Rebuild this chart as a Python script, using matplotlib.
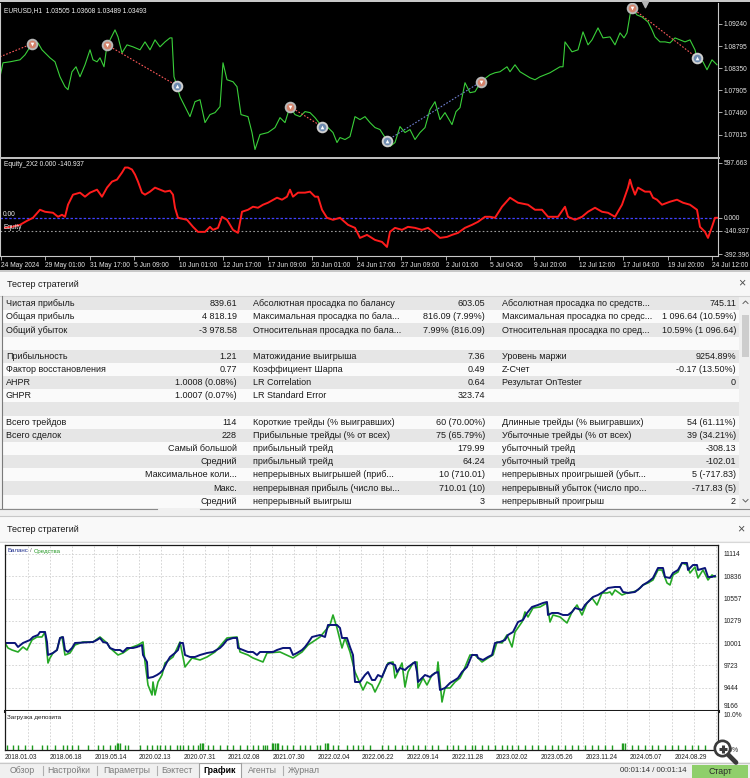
import numpy as np
import matplotlib
matplotlib.use("Agg")
import matplotlib.pyplot as plt
from matplotlib.patches import Rectangle, Circle

plt.rcParams['font.family'] = ['Liberation Sans', 'DejaVu Sans']

W, H = 750, 778

# ---------------- top chart: EURUSD H1 (bar, price) ----------------
price_pts = [
    (0, 1.08177), (3, 1.08458), (10, 1.08478), (20, 1.08518), (25, 1.08618), (32, 1.08839),
    (38, 1.08859), (42, 1.08719), (50, 1.08558), (55, 1.08478), (60, 1.08177), (65, 1.07977),
    (68, 1.07917), (72, 1.08278), (76, 1.08378), (80, 1.08177), (85, 1.08418), (90, 1.08719),
    (93, 1.08518), (97, 1.08478), (100, 1.08558), (104, 1.08378), (107, 1.08819), (110, 1.08919),
    (115, 1.09120), (118, 1.08979), (122, 1.08659), (127, 1.08819), (133, 1.08779), (140, 1.08719),
    (145, 1.08879), (150, 1.08719), (155, 1.08919), (160, 1.08779), (165, 1.08879), (170, 1.08959),
    (172, 1.08959), (174, 1.08177), (177, 1.07997), (180, 1.07776), (185, 1.07576), (190, 1.07375),
    (195, 1.07676), (200, 1.07716), (205, 1.07255), (210, 1.07416), (215, 1.07456), (220, 1.07576),
    (223, 1.08458), (227, 1.08117), (233, 1.08077), (237, 1.07977), (241, 1.07416), (248, 1.07375),
    (252, 1.07055), (255, 1.06714), (260, 1.07015), (268, 1.07055), (275, 1.07155), (280, 1.07355),
    (285, 1.07255), (290, 1.07576), (295, 1.07416), (300, 1.07375), (305, 1.07476), (310, 1.07456),
    (315, 1.07355), (322, 1.07175), (328, 1.07155), (333, 1.07055), (337, 1.06854), (340, 1.06954),
    (345, 1.06914), (350, 1.06974), (355, 1.07375), (360, 1.07315), (365, 1.07375), (370, 1.07255),
    (375, 1.07155), (380, 1.07115), (387, 1.06894), (390, 1.06774), (395, 1.06854), (400, 1.07175),
    (405, 1.07055), (410, 1.07115), (415, 1.06914), (420, 1.07055), (425, 1.07155), (430, 1.07516),
    (435, 1.07676), (440, 1.07315), (445, 1.07456), (452, 1.07215), (456, 1.07476), (460, 1.07556),
    (465, 1.08057), (470, 1.07857), (475, 1.07877), (481, 1.08077), (486, 1.08157), (490, 1.08218),
    (495, 1.08258), (500, 1.08278), (507, 1.08378), (510, 1.08278), (515, 1.08418), (520, 1.08278),
    (525, 1.08218), (530, 1.08157), (535, 1.08117), (540, 1.08177), (550, 1.08258), (555, 1.08318),
    (560, 1.08378), (563, 1.08378), (565, 1.08879), (572, 1.08679), (578, 1.08719), (583, 1.09080),
    (588, 1.08819), (592, 1.08919), (598, 1.09160), (603, 1.08959), (610, 1.08979), (615, 1.08819),
    (620, 1.09060), (624, 1.08959), (627, 1.09060), (630, 1.09420), (632, 1.09561), (637, 1.09420),
    (642, 1.09380), (648, 1.09280), (652, 1.09120), (655, 1.08979), (660, 1.08879), (665, 1.08879),
    (670, 1.08859), (675, 1.08959), (680, 1.08919), (685, 1.08879), (690, 1.08919), (695, 1.08719),
    (697, 1.08558), (703, 1.08478), (707, 1.08318), (712, 1.08518), (717, 1.08418),
]
# deals on the chart: (bar, price, 's'=sell / 'b'=buy)
deal_pts = [(32, 1.08839, 's'), (107, 1.08819, 's'), (177, 1.07997, 'b'), (290, 1.07576, 's'),
            (322, 1.07175, 'b'), (387, 1.06894, 'b'), (481, 1.08077, 's'), (632, 1.09561, 's'),
            (697, 1.08558, 'b')]
# trade lines: (bar0, price0, bar1, price1, kind)
trade_lines = [(0, 1.08579, 32, 1.08839, 's'), (107, 1.08819, 177, 1.07997, 's'),
               (290, 1.07576, 322, 1.07175, 's'), (387, 1.06894, 481, 1.08077, 'b'),
               (632, 1.09561, 697, 1.08558, 's')]
price_ticks = [1.07015, 1.07460, 1.07905, 1.08350, 1.08795, 1.09240]
chart_dates = ["24 May 2024", "29 May 01:00", "31 May 17:00", "5 Jun 09:00", "10 Jun 01:00",
               "12 Jun 17:00", "17 Jun 09:00", "20 Jun 01:00", "24 Jun 17:00", "27 Jun 09:00",
               "2 Jul 01:00", "5 Jul 04:00", "9 Jul 20:00", "12 Jul 12:00", "17 Jul 04:00",
               "19 Jul 20:00", "24 Jul 12:00"]

# Equity_2X2 indicator (bar, value)
equity_pts = [
    (5, -108.7), (12, -97.8), (20, -76.1), (27, -32.6), (33, 0.0), (40, 86.9), (45, 65.2),
    (53, 54.3), (58, 10.9), (62, 32.6), (65, 10.9), (68, 141.3), (73, 249.9), (80, 271.7),
    (85, 228.2), (90, 271.7), (97, 304.2), (102, 228.2), (107, 326.0), (112, 391.2), (117, 412.9),
    (122, 489.0), (125, 543.3), (128, 543.3), (132, 521.6), (135, 467.2), (138, 391.2), (142, 271.7),
    (145, 249.9), (150, 282.5), (155, 326.0), (160, 304.2), (165, 282.5), (170, 293.4), (173, 249.9),
    (175, 108.7), (178, 0.0), (187, -21.7), (193, -97.8), (198, -152.1), (205, -152.1), (210, -97.8),
    (213, -130.4), (218, -108.7), (222, 10.9), (227, -21.7), (233, -130.4), (238, -163.0), (242, 65.2),
    (248, 86.9), (253, 119.5), (258, 108.7), (263, 141.3), (268, 163.0), (277, 217.3), (282, 195.6),
    (287, 228.2), (290, 304.2), (293, 228.2), (298, 271.7), (305, 271.7), (310, 282.5), (315, 228.2),
    (318, 228.2), (322, 86.9), (327, 0.0), (333, -21.7), (340, 0.0), (348, -76.1), (355, -108.7),
    (360, -217.3), (367, -184.7), (375, -239.1), (382, -260.8), (387, -315.1), (390, -152.1),
    (395, -108.7), (402, -130.4), (408, -97.8), (415, -108.7), (422, -130.4), (428, -108.7),
    (433, -152.1), (440, -217.3), (447, -206.4), (452, -184.7), (458, -163.0), (465, -108.7),
    (472, -76.1), (478, -43.5), (485, 10.9), (490, 10.9), (495, 0.0), (502, 119.5), (510, 217.3),
    (518, 163.0), (528, 141.3), (535, 86.9), (542, 86.9), (548, 10.9), (558, 10.9), (565, 119.5),
    (568, 10.9), (575, -21.7), (582, 10.9), (588, 65.2), (595, 108.7), (602, 65.2), (608, 54.3),
    (615, 10.9), (622, 141.3), (628, 326.0), (630, 412.9), (632, 336.8), (635, 249.9), (638, 326.0),
    (645, 282.5), (650, 282.5), (653, 217.3), (657, 195.6), (662, 141.3), (670, 173.9), (677, 195.6),
    (683, 163.0), (690, 141.3), (697, 86.9), (700, -97.8), (705, -152.1), (708, -217.3),
    (712, -97.8), (715, 0.0), (718, 0.0),
]
equity_ticks = [-392.396, -140.937, 0.0, 597.663]

# ---------------- tester graph: balance / equity (point, value) ----------------
balance_pts = [
    (5, 10002.7), (15, 10002.7), (18, 9952.7), (23, 10002.7), (30, 10040.1), (33, 10077.6),
    (38, 10102.6), (40, 10140.0), (45, 10140.0), (47, 10015.1), (48, 9852.8), (53, 9877.8),
    (57, 9915.2), (60, 10065.1), (63, 10077.6), (65, 9915.2), (68, 9890.3), (72, 9940.2),
    (75, 10002.7), (93, 10015.1), (97, 10040.1), (100, 10065.1), (103, 10015.1), (107, 10002.7),
    (110, 9940.2), (115, 9915.2), (120, 9915.2), (123, 9890.3), (127, 9940.2), (133, 9940.2),
    (137, 9952.7), (142, 9977.7), (143, 9852.8), (147, 9765.4), (148, 9565.6), (153, 9578.1),
    (157, 9603.1), (160, 9628.0), (163, 9665.5), (167, 9765.4), (170, 9827.8), (175, 9877.8),
    (178, 9915.2), (180, 10002.7), (183, 10002.7), (185, 9852.8), (190, 9827.8), (195, 9827.8),
    (200, 9852.8), (207, 9877.8), (213, 9890.3), (220, 9940.2), (223, 9977.7), (227, 10040.1),
    (233, 10065.1), (237, 10065.1), (238, 9940.2), (243, 9915.2), (248, 9890.3), (253, 9890.3),
    (257, 9852.8), (260, 9890.3), (273, 9890.3), (277, 9915.2), (283, 9940.2), (290, 9940.2),
    (293, 9852.8), (297, 9877.8), (302, 9915.2), (305, 9952.7), (308, 10002.7), (312, 10077.6),
    (320, 10102.6), (325, 10077.6), (328, 10227.4), (337, 10227.4), (340, 10190.0), (342, 10065.1),
    (347, 10065.1), (350, 9952.7), (353, 9852.8), (355, 9515.7), (360, 9515.7), (365, 9603.1),
    (368, 9640.5), (372, 9540.6), (375, 9540.6), (378, 9603.1), (382, 9578.1), (387, 9727.9),
    (390, 9752.9), (395, 9727.9), (397, 9640.5), (400, 9690.5), (405, 9665.5), (408, 9702.9),
    (415, 9765.4), (417, 9640.5), (418, 9515.7), (422, 9565.6), (425, 9603.1), (430, 9578.1),
    (435, 9628.0), (438, 9640.5), (440, 9415.8), (445, 9440.7), (450, 9503.2), (455, 9540.6),
    (458, 9565.6), (462, 9640.5), (467, 9702.9), (472, 9852.8), (477, 9852.8), (478, 9815.4),
    (483, 9790.4), (488, 9827.8), (492, 9852.8), (495, 10002.7), (500, 10015.1), (505, 10040.1),
    (508, 10102.6), (513, 10140.0), (518, 10264.9), (523, 10289.9), (527, 10377.3), (532, 10452.2),
    (538, 10477.2), (543, 10502.1), (547, 10514.6), (548, 10352.3), (552, 10377.3), (558, 10377.3),
    (563, 10352.3), (568, 10352.3), (572, 10389.8), (575, 10439.7), (582, 10414.7), (585, 10477.2),
    (588, 10514.6), (593, 10577.1), (598, 10602.0), (603, 10639.5), (608, 10689.4), (615, 10701.9),
    (620, 10701.9), (623, 10639.5), (628, 10627.0), (635, 10639.5), (640, 10689.4), (643, 10726.9),
    (648, 10764.4), (653, 10814.3), (658, 10939.2), (663, 10939.2), (665, 10826.8), (670, 10814.3),
    (673, 10876.7), (678, 10914.2), (682, 11001.6), (687, 11001.6), (688, 10914.2), (693, 10976.6),
    (697, 10976.6), (698, 10914.2), (705, 10939.2), (708, 10826.8), (712, 10826.8), (715, 10839.3),
]
funds_pts = [
    (5, 10002.7), (8, 9940.2), (12, 9915.2), (18, 9890.3), (23, 9952.7), (27, 9915.2),
    (32, 10040.1), (37, 10077.6), (42, 10077.6), (45, 10140.0), (48, 9752.9), (50, 9815.4),
    (53, 9877.8), (57, 9915.2), (60, 10065.1), (62, 10077.6), (65, 9852.8), (70, 9877.8),
    (75, 9977.7), (83, 10015.1), (93, 10015.1), (100, 10077.6), (107, 10002.7), (110, 9940.2),
    (118, 9852.8), (123, 9877.8), (130, 9940.2), (138, 9977.7), (143, 10015.1), (145, 9765.4),
    (148, 9478.2), (152, 9353.3), (153, 9515.7), (155, 9353.3), (158, 9515.7), (162, 9603.1),
    (165, 9752.9), (173, 9827.8), (180, 10015.1), (185, 9702.9), (192, 9815.4), (200, 9790.4),
    (207, 9827.8), (215, 9890.3), (227, 10065.1), (237, 10077.6), (240, 9890.3), (248, 9852.8),
    (253, 9815.4), (263, 9765.4), (267, 9877.8), (280, 9890.3), (293, 9815.4), (302, 9890.3),
    (308, 9977.7), (320, 10077.6), (330, 10227.4), (333, 10352.3), (337, 10190.0), (342, 9940.2),
    (345, 10065.1), (350, 9890.3), (355, 9640.5), (363, 9415.8), (367, 9515.7), (372, 9478.2),
    (375, 9390.8), (380, 9515.7), (388, 9752.9), (393, 9765.4), (395, 9565.6), (398, 9640.5),
    (402, 9752.9), (405, 9453.2), (408, 9640.5), (413, 9752.9), (417, 9765.4), (418, 9440.7),
    (423, 9565.6), (427, 9478.2), (432, 9603.1), (437, 9640.5), (438, 9765.4), (442, 9265.9),
    (445, 9440.7), (450, 9440.7), (455, 9515.7), (460, 9565.6), (463, 9640.5), (470, 9852.8),
    (475, 9852.8), (482, 9765.4), (488, 9815.4), (493, 9852.8), (497, 10015.1), (502, 10002.7),
    (507, 10102.6), (512, 9952.7), (515, 10140.0), (522, 10264.9), (525, 10389.8), (528, 10327.3),
    (533, 10439.7), (540, 10452.2), (547, 10502.1), (550, 10264.9), (553, 10352.3), (560, 10327.3),
    (567, 10252.4), (572, 10389.8), (577, 10477.2), (582, 10352.3), (587, 10502.1), (592, 10564.6),
    (597, 10477.2), (602, 10627.0), (607, 10627.0), (610, 10639.5), (612, 10602.0), (615, 10664.5),
    (622, 10602.0), (627, 10627.0), (633, 10639.5), (638, 10664.5), (643, 10726.9), (648, 10751.9),
    (653, 10789.3), (658, 10914.2), (662, 10914.2), (667, 10751.9), (670, 10726.9), (673, 10851.8),
    (678, 10889.2), (682, 11001.6), (687, 10976.6), (690, 10876.7), (695, 10951.7), (698, 10814.3),
    (703, 10914.2), (708, 10789.3), (712, 10851.8), (715, 10826.8),
]
balance_ticks = [9166, 9444, 9723, 10001, 10279, 10557, 10836, 11114]
test_dates = ["2018.01.03", "2018.06.18", "2019.05.14", "2020.02.13", "2020.07.31", "2021.02.08",
              "2021.07.30", "2022.02.04", "2022.06.22", "2022.09.14", "2022.11.28", "2023.02.02",
              "2023.05.26", "2023.11.24", "2024.05.07", "2024.08.29"]
# deposit load per deal (point, %)
load_x = [7, 13, 18, 25, 32, 42, 47, 55, 63, 67,
          72, 78, 88, 98, 103, 110, 115, 117, 118, 120,
          125, 128, 140, 147, 152, 157, 160, 165, 170, 177,
          180, 183, 188, 193, 198, 200, 202, 203, 208, 213,
          220, 227, 233, 240, 247, 253, 258, 263, 265, 267,
          272, 273, 275, 277, 278, 282, 287, 293, 300, 305,
          310, 317, 320, 325, 327, 328, 333, 338, 347, 353,
          358, 363, 370, 382, 388, 395, 402, 407, 413, 418,
          425, 432, 438, 447, 453, 458, 465, 472, 475, 482,
          488, 495, 502, 507, 512, 518, 525, 532, 538, 545,
          552, 558, 565, 572, 578, 585, 592, 598, 605, 612,
          622, 623, 625, 632, 638, 645, 652, 658, 665, 672,
          678, 685, 692, 698, 705]
load_v = [1.4, 1.4, 1.4, 1.4, 1.4, 1.4, 1.4, 1.4, 1.4, 1.4,
          1.4, 1.4, 1.4, 1.4, 1.4, 1.4, 1.4, 1.9, 1.9, 1.9,
          1.4, 1.4, 1.4, 1.4, 1.4, 1.4, 1.4, 1.4, 1.4, 1.4,
          1.4, 1.4, 1.4, 1.4, 1.4, 1.9, 1.9, 1.9, 1.4, 1.4,
          1.4, 1.4, 1.4, 1.4, 1.4, 1.4, 1.4, 1.4, 1.4, 1.4,
          1.9, 1.9, 1.9, 1.9, 1.9, 1.4, 1.4, 1.4, 1.4, 1.4,
          1.4, 1.4, 1.4, 1.9, 1.9, 1.9, 1.4, 1.4, 1.4, 1.4,
          1.4, 1.4, 1.4, 1.4, 1.4, 1.4, 1.4, 1.4, 1.4, 1.4,
          1.4, 1.4, 1.4, 1.4, 1.4, 1.4, 1.4, 1.4, 1.4, 1.4,
          1.4, 1.4, 1.4, 1.4, 1.4, 1.4, 1.4, 1.4, 1.4, 1.4,
          1.4, 1.4, 1.4, 1.4, 1.4, 1.4, 1.4, 1.4, 1.4, 1.4,
          1.9, 1.9, 1.9, 1.4, 1.4, 1.4, 1.4, 1.4, 1.4, 1.4,
          1.4, 1.4, 1.4, 1.4, 1.4]

# ---------------- report table ----------------
col1_names = ["Чистая прибыль", "Общая прибыль", "Общий убыток", "", "Прибыльность",
              "Фактор восстановления", "AHPR", "GHPR", "", "Всего трейдов", "Всего сделок",
              "", "", "", "", ""]
col1_vals = ["839.61", "4 818.19", "-3 978.58", "", "1.21", "0.77", "1.0008 (0.08%)",
             "1.0007 (0.07%)", "", "114", "228", "Самый большой", "Средний",
             "Максимальное коли...", "Макс.", "Средний"]
col2_names = ["Абсолютная просадка по балансу", "Максимальная просадка по бала...",
              "Относительная просадка по бала...", "", "Матожидание выигрыша",
              "Коэффициент Шарпа", "LR Correlation", "LR Standard Error", "",
              "Короткие трейды (% выигравших)", "Прибыльные трейды (% от всех)",
              "прибыльный трейд", "прибыльный трейд", "непрерывных выигрышей (приб...",
              "непрерывная прибыль (число вы...", "непрерывный выигрыш"]
col2_vals = ["603.05", "816.09 (7.99%)", "7.99% (816.09)", "", "7.36", "0.49", "0.64", "323.74",
             "", "60 (70.00%)", "75 (65.79%)", "179.99", "64.24", "10 (710.01)", "710.01 (10)", "3"]
col3_names = ["Абсолютная просадка по средств...", "Максимальная просадка по средс...",
              "Относительная просадка по сред...", "", "Уровень маржи", "Z-Счет",
              "Результат OnTester", "", "", "Длинные трейды (% выигравших)",
              "Убыточные трейды (% от всех)", "убыточный трейд", "убыточный трейд",
              "непрерывных проигрышей (убыт...", "непрерывный убыток (число про...",
              "непрерывный проигрыш"]
col3_vals = ["745.11", "1 096.64 (10.59%)", "10.59% (1 096.64)", "", "9254.89%", "-0.17 (13.50%)",
             "0", "", "", "54 (61.11%)", "39 (34.21%)", "-308.13", "-102.01", "5 (-717.83)",
             "-717.83 (5)", "2"]

tabs = ["Обзор", "Настройки", "Параметры", "Бэктест", "График", "Агенты", "Журнал"]


def box(x0, y0, x1, y1):
    return [x0 / W, 1 - y1 / H, (x1 - x0) / W, (y1 - y0) / H]


fig = plt.figure(figsize=(7.5, 7.78), dpi=100, facecolor='#f0f0f0')

# window chrome (pixel space)
ui = fig.add_axes([0, 0, 1, 1], zorder=-5)
ui.set_xlim(0, W)
ui.set_ylim(H, 0)
ui.axis('off')


def rect(ax, x0, y0, x1, y1, color, **kw):
    ax.add_patch(Rectangle((x0, y0), x1 - x0, y1 - y0, facecolor=color, edgecolor='none', **kw))


rect(ui, 0, 0, 750, 271, 'black')
rect(ui, 0, 0, 750, 2, '#c8c8c8')
rect(ui, 0, 156.5, 720, 158.5, '#bdbdbd')
rect(ui, 0, 270, 750, 272, '#c8c8c8')

# first tester panel
rect(ui, 0, 272, 750, 296, '#f7f7f7')
ui.text(7, 284, "Тестер стратегий", fontsize=6.5, color='#1a1a1a', va='center')
ui.text(742, 283, "×", fontsize=9, color='#505050', ha='center', va='center')
ui.plot([0, 750], [295.5, 295.5], color='#d4d4d4', lw=0.8)
row_y = 303.7 + 13.17 * np.arange(len(col1_names))
for i, y in enumerate(row_y):
    rect(ui, 3, y - 6.585, 739, y + 6.585, '#e6e6e6' if i % 2 == 0 else '#fafafa')
    kw = dict(fontsize=6.5, color='#1a1a1a', va='center')
    ui.text(6, y, col1_names[i], **kw)
    ui.text(237, y, col1_vals[i], ha='right', **kw)
    ui.text(253, y, col2_names[i], **kw)
    ui.text(485, y, col2_vals[i], ha='right', **kw)
    ui.text(502, y, col3_names[i], **kw)
    ui.text(736, y, col3_vals[i], ha='right', **kw)
ui.plot([1.5, 1.5], [296, 508], color='#7a7a7a', lw=0.8)
rect(ui, 739, 296, 750, 508, '#f0f0f0')
rect(ui, 741.5, 315, 748.5, 357, '#cdcdcd')
ui.plot([743, 745.5, 748], [303.5, 301, 303.5], color='#606060', lw=0.7)
ui.plot([743, 745.5, 748], [499.5, 502, 499.5], color='#606060', lw=0.7)
ui.plot([0, 157], [508.5, 508.5], color='#8a8a8a', lw=0.8)
ui.plot([200, 750], [508.5, 508.5], color='#8a8a8a', lw=0.8)

# second tester panel
rect(ui, 0, 516, 750, 541, '#f9f9f9')
ui.plot([0, 750], [516, 516], color='#c8c8c8', lw=0.8)
ui.plot([0, 750], [541.5, 541.5], color='#d8d8d8', lw=0.8)
ui.text(7, 529, "Тестер стратегий", fontsize=6.5, color='#1a1a1a', va='center')
ui.text(741, 529, "×", fontsize=9, color='#505050', ha='center', va='center')
rect(ui, 0, 542, 750, 762, 'white')

# tab bar
rect(ui, 0, 762, 750, 778, '#f0f0f0')
ui.plot([0, 750], [762.5, 762.5], color='#c8c8c8', lw=0.8)
rect(ui, 199, 762, 241, 778, 'white')
ui.plot([199, 199, 241, 241], [778, 762.5, 762.5, 778], color='#a0a0a0', lw=0.8)
tab_x = [22, 69, 127, 177, 220, 262, 304]
for name, x in zip(tabs, tab_x):
    active = name == "График"
    ui.text(x, 770.5, name, fontsize=6.3, ha='center', va='center',
            color='#000000' if active else '#7a7a7a', fontweight='bold' if active else 'normal')
for x in [43, 97, 157, 283]:
    ui.plot([x, x], [766, 775], color='#b0b0b0', lw=0.8)
ui.text(653, 771, "00:01:14 / 00:01:14", fontsize=5.6, ha='center', va='center', color='#333333')
rect(ui, 692, 765, 748, 778, '#8fcf6b')
ui.text(720, 771.5, "Старт", fontsize=6.3, ha='center', va='center', color='#2a2a2a')

# ---------------- price window ----------------
ax_p = fig.add_axes(box(0, 3, 718, 156.5), facecolor='black')
pt, pv = zip(*price_pts)
ax_p.plot(pt, pv, color='#3ad03a', lw=0.8)
for t0, p0, t1, p1, k in trade_lines:
    ax_p.plot([t0, t1], [p0, p1], color='#ff5a5a' if k == 's' else '#7080d0',
              lw=0.8, ls=(0, (1.5, 1.5)))
for kind, face, edge, glyph in [('s', '#d4826a', '#b8b8b8', 'v'), ('b', '#6e8bb0', '#cfcfcf', '^')]:
    dt = [d[0] for d in deal_pts if d[2] == kind]
    dp = [d[1] for d in deal_pts if d[2] == kind]
    ax_p.scatter(dt, dp, s=48, facecolor=face, edgecolor=edge, linewidth=1.4, zorder=4)
    ax_p.scatter(dt, dp, s=7, marker=glyph, color='white', linewidth=0, zorder=5)
ax_p.scatter([645], [1.0965], marker='v', s=22, color='#b4b4b4', zorder=5, clip_on=False)
ax_p.set_xlim(0, 718)
ax_p.set_ylim(1.06573, 1.09661)
ax_p.set_xticks([])
ax_p.yaxis.tick_right()
ax_p.set_yticks(price_ticks, [f'{v:.5f}' for v in price_ticks])
ax_p.tick_params(axis='y', labelcolor='#e6e6e6', color='#c8c8c8', labelsize=4.8,
                 length=3, width=0.6, pad=1)
for s in ['top', 'bottom']:
    ax_p.spines[s].set_visible(False)
for s in ['left', 'right']:
    ax_p.spines[s].set_color('#c8c8c8')
ax_p.text(0.006, 0.975, "EURUSD,H1  1.03505 1.03608 1.03489 1.03493", transform=ax_p.transAxes,
          color='#f0f0f0', fontsize=4.8, va='top')

# ---------------- equity indicator window ----------------
ax_e = fig.add_axes(box(0, 158.5, 718, 256), facecolor='black')
et, ev = zip(*equity_pts)
ax_e.axhline(0, color='#4040ff', lw=0.9, ls=(0, (2, 1.5)))
ax_e.axhline(-140.937, color='#9a9a9a', lw=0.8, ls=(0, (1.5, 2)))
ax_e.plot(et, ev, color='#ff1c1c', lw=1.4)
ax_e.set_xlim(0, 718)
ax_e.set_ylim(-413, 641)
ax_e.yaxis.tick_right()
ax_e.set_yticks(equity_ticks, [f'{v:.3f}' for v in equity_ticks])
ax_e.set_xticks(np.linspace(1, 712.2, len(chart_dates)), chart_dates, ha='left')
ax_e.tick_params(axis='both', labelcolor='#e6e6e6', color='#c8c8c8', labelsize=4.8,
                 length=3, width=0.6, pad=1)
ax_e.tick_params(axis='x', pad=1.5)
ax_e.spines['top'].set_visible(False)
for s in ['left', 'right', 'bottom']:
    ax_e.spines[s].set_color('#c8c8c8')
ax_e.text(3, 0, "0.00", color='#f0f0f0', fontsize=4.8, va='bottom')
ax_e.text(3, -140.937, "Equity", color='#f0f0f0', fontsize=4.8, va='bottom')
ax_e.text(0.006, 0.97, "Equity_2X2 0.000 -140.937", transform=ax_e.transAxes,
          color='#f0f0f0', fontsize=4.8, va='top')

# ---------------- balance / equity graph ----------------
grid_x = np.arange(27.8, 718, 22.2)
ax_b = fig.add_axes(box(5, 545, 718, 711), facecolor='white')
ft, fv = zip(*funds_pts)
bt, bv = zip(*balance_pts)
ax_b.plot(ft, fv, color='#25a825', lw=1.2)
ax_b.plot(bt, bv, color='#0a1478', lw=1.4)
ax_b.set_xlim(5, 718)
ax_b.set_ylim(9153.5, 11226)
ax_b.yaxis.tick_right()
ax_b.set_yticks(balance_ticks, [str(v) for v in balance_ticks])
ax_b.set_xticks([])
ax_b.set_xticks(grid_x, minor=True)
ax_b.tick_params(axis='both', which='both', length=0)
ax_b.tick_params(axis='y', labelsize=4.8, pad=4, labelcolor='#202020')
# lowest label sits just above the separator, as in the tester
ax_b.yaxis.get_major_ticks()[0].label2.set_verticalalignment('bottom')
ax_b.grid(True, which='minor', axis='x', color='#cfcfcf', lw=0.6, ls=(0, (2, 2)))
ax_b.grid(True, which='major', axis='y', color='#cfcfcf', lw=0.6, ls=(0, (2, 2)))
ax_b.set_axisbelow(True)
for s in ax_b.spines.values():
    s.set_color('#1a1a1a')
    s.set_linewidth(0.9)
ax_b.spines['bottom'].set_linewidth(2.2)

ax_d = fig.add_axes(box(5, 711, 718, 749.5), facecolor='white')
ax_d.vlines(load_x, 0, load_v, color='#1f9a1f', lw=1.0)
ax_d.set_xlim(5, 718)
ax_d.set_ylim(0, 10.9)
ax_d.yaxis.tick_right()
ax_d.set_yticks([0, 10], ['0.0%', '10.0%'])
ax_d.set_xticks(np.linspace(21.4, 690.4, len(test_dates)), test_dates)
ax_d.set_xticks(grid_x, minor=True)
ax_d.tick_params(axis='both', which='both', length=0)
ax_d.tick_params(axis='x', labelsize=4.7, pad=3.5, labelcolor='#202020')
ax_d.tick_params(axis='y', labelsize=4.8, pad=4, labelcolor='#202020')
ax_d.grid(True, which='minor', axis='x', color='#cfcfcf', lw=0.6, ls=(0, (2, 2)))
ax_d.set_axisbelow(True)
ax_d.spines['top'].set_visible(False)
for s in ['left', 'right', 'bottom']:
    ax_d.spines[s].set_color('#1a1a1a')
    ax_d.spines[s].set_linewidth(0.9)

# overlay: legends and zoom icon
top = fig.add_axes([0, 0, 1, 1], zorder=10)
top.set_xlim(0, W)
top.set_ylim(H, 0)
top.axis('off')
top.patch.set_alpha(0)
top.text(7, 551, "Баланс", fontsize=4.4, color='#1a2a8a', va='center')
top.text(29.5, 551, "/", fontsize=4.4, color='#606060', va='center')
top.text(33.5, 551, "Средства", fontsize=4.4, color='#2a9a2a', va='center')
top.text(7, 717, "Загрузка депозита", fontsize=4.6, color='#1a1a1a', va='center')
top.plot([728.5, 736], [755, 762.5], color='#3a3a3a', lw=3.4, solid_capstyle='round')
top.add_patch(Circle((722.5, 748.5), 9, facecolor='#3a3a3a', edgecolor='none'))
top.add_patch(Circle((722.5, 748.5), 6.3, facecolor='white', edgecolor='none'))
top.plot([718.5, 726.5], [748.5, 748.5], color='#3a3a3a', lw=2.2, solid_capstyle='butt')
top.plot([722.5, 722.5], [744.5, 752.5], color='#3a3a3a', lw=2.2, solid_capstyle='butt')

fig.savefig("out.png", dpi=100, facecolor=fig.get_facecolor())
